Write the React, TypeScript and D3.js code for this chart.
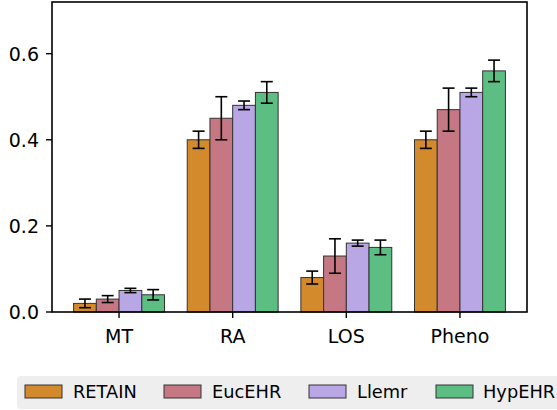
import React from "react";
import * as d3 from "d3";

const categories = ["MT", "RA", "LOS", "Pheno"];
const methods = ["RETAIN", "EucEHR", "Llemr", "HypEHR"];
const colors = ["#D28A2C", "#C57883", "#B9A6E5", "#5DBE84"];
const retain = [0.02, 0.4, 0.08, 0.4];
const retainErr = [0.01, 0.02, 0.015, 0.02];
const eucehr = [0.03, 0.45, 0.13, 0.47];
const eucehrErr = [0.008, 0.05, 0.04, 0.05];
const llemr = [0.05, 0.48, 0.16, 0.51];
const llemrErr = [0.005, 0.01, 0.007, 0.01];
const hypehr = [0.04, 0.51, 0.15, 0.56];
const hypehrErr = [0.012, 0.025, 0.017, 0.025];
const yTicks = [0, 0.2, 0.4, 0.6];

const values = [retain, eucehr, llemr, hypehr];
const errors = [retainErr, eucehrErr, llemrErr, hypehrErr];

const W = 557, H = 410;
const left = 52, right = 527, top = 2, bottom = 312;
const font = "DejaVu Sans, sans-serif";

export default function App() {
  const x = d3.scaleLinear().domain([-0.59, 3.59]).range([left, right]);
  const y = d3.scaleLinear().domain([0, 0.72]).range([bottom, top]);
  const bw = 0.2;
  const offsets = [-0.3, -0.1, 0.1, 0.3];
  const legendItems = [
    { px: 25, tx: 73 },
    { px: 164, tx: 212 },
    { px: 309, tx: 357 },
    { px: 436, tx: 483 },
  ];
  return (
    <svg width={W} height={H} style={{ position: "absolute", left: 0, top: 0 }}>
      <rect x={0} y={0} width={W} height={H} fill="#fff" />
      {values.map((series, s) =>
        series.map((v, i) => {
          const x0 = x(i + offsets[s] - bw / 2);
          const x1 = x(i + offsets[s] + bw / 2);
          return (
            <rect key={`b${s}-${i}`} x={x0} y={y(v)} width={x1 - x0} height={y(0) - y(v)}
              fill={colors[s]} stroke="#333" strokeWidth={1} />
          );
        })
      )}
      {values.map((series, s) =>
        series.map((v, i) => {
          const cx = x(i + offsets[s]);
          const e = errors[s][i];
          return (
            <g key={`e${s}-${i}`} stroke="#000" strokeWidth={1.6}>
              <line x1={cx} x2={cx} y1={y(v - e)} y2={y(v + e)} />
              <line x1={cx - 6} x2={cx + 6} y1={y(v - e)} y2={y(v - e)} />
              <line x1={cx - 6} x2={cx + 6} y1={y(v + e)} y2={y(v + e)} />
            </g>
          );
        })
      )}
      <rect x={left} y={top} width={right - left} height={bottom - top} fill="none" stroke="#000" strokeWidth={1.6} />
      {yTicks.map((t) => (
        <g key={`y${t}`}>
          <line x1={left - 6} x2={left} y1={y(t)} y2={y(t)} stroke="#000" strokeWidth={1.4} />
          <text x={left - 13} y={y(t)} dy="0.36em" textAnchor="end" fontFamily={font} fontSize={19} fill="#000">
            {t.toFixed(1)}
          </text>
        </g>
      ))}
      {categories.map((c, i) => (
        <g key={c}>
          <line x1={x(i)} x2={x(i)} y1={bottom} y2={bottom + 6} stroke="#000" strokeWidth={1.4} />
          <text x={x(i)} y={343} textAnchor="middle" fontFamily={font} fontSize={19} fill="#000">
            {c}
          </text>
        </g>
      ))}
      <rect x={17} y={376} width={560} height={33} rx={4} fill="#EEEEEE" />
      {methods.map((m, s) => (
        <g key={m}>
          <rect x={legendItems[s].px} y={385} width={37} height={13} fill={colors[s]} stroke="#333" strokeWidth={1} />
          <text x={legendItems[s].tx} y={398} fontFamily={font} fontSize={17.8} fill="#000">
            {m}
          </text>
        </g>
      ))}
    </svg>
  );
}
